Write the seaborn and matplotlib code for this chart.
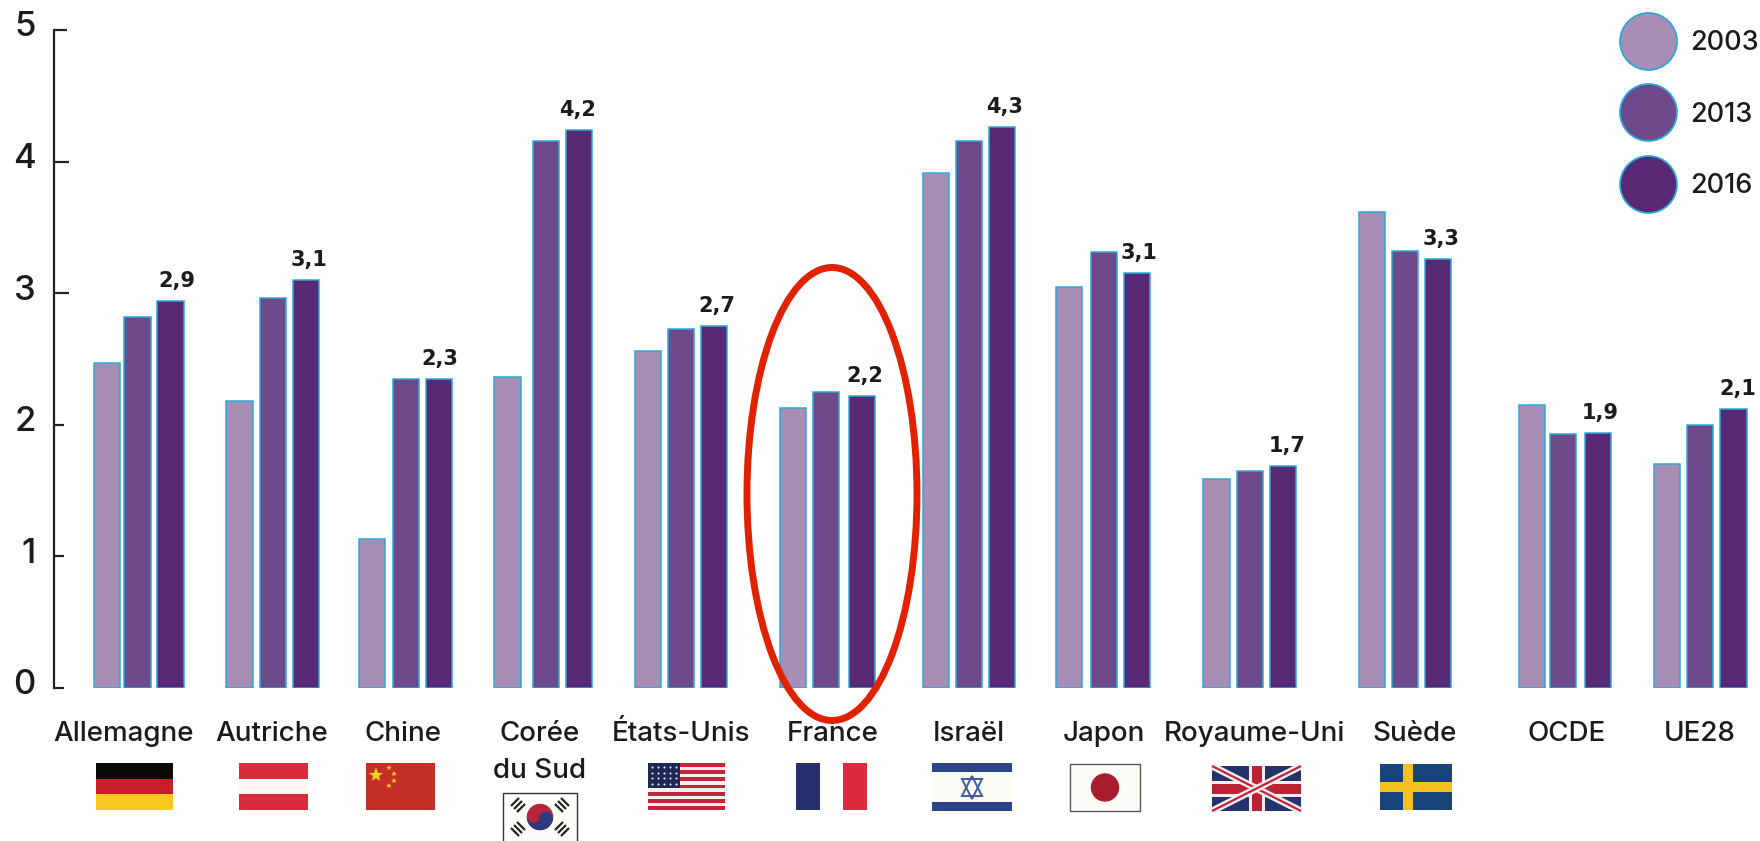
import matplotlib
matplotlib.use("Agg")
import matplotlib.pyplot as plt
import matplotlib.transforms as mtrans
from matplotlib.lines import Line2D
from matplotlib.patches import Ellipse, Rectangle, Wedge
import pandas as pd
import seaborn as sns

countries = ["Allemagne", "Autriche", "Chine", "Corée\ndu Sud", "États-Unis", "France",
             "Israël", "Japon", "Royaume-Uni", "Suède", "OCDE", "UE28"]
years = ["2003", "2013", "2016"]
values_2003 = [2.47, 2.18, 1.13, 2.36, 2.56, 2.13, 3.91, 3.05, 1.59, 3.62, 2.15, 1.70]
values_2013 = [2.82, 2.96, 2.35, 4.16, 2.73, 2.25, 4.16, 3.31, 1.65, 3.32, 1.93, 2.00]
values_2016 = [2.94, 3.10, 2.35, 4.24, 2.75, 2.22, 4.26, 3.15, 1.69, 3.26, 1.94, 2.12]
value_labels = ["2,9", "3,1", "2,3", "4,2", "2,7", "2,2", "4,3", "3,1", "1,7", "3,3", "1,9", "2,1"]

# layout: the bars are not evenly spaced in the original, so x is in image pixels
x_2003 = [106.8, 239.5, 372.3, 507.5, 648, 793.3, 936, 1068.7, 1216.5, 1371.8, 1532.2, 1667.3]
x_2013 = [137.5, 272.7, 405.7, 545.7, 681, 826.3, 969.2, 1104.2, 1249.7, 1404.8, 1562.8, 1700.3]
x_2016 = [170.5, 305.7, 438.7, 578.8, 714, 861.7, 1002, 1137.3, 1282.8, 1437.8, 1598.3, 1733.5]
label_x = [124, 272, 403, 540, 681, 833, 968.5, 1104, 1254, 1415, 1567, 1700]
value_label_shift = [6, 3, 1.5, -1, 3, 3, 3, 2, 4, 3, 2, 4]

W, H = 1760, 841
TEXT = "#1c1a1c"
EDGE = "#2aa9d6"
palette = ["#a88db5", "#6f4a8a", "#582875"]

df = pd.DataFrame({
    "x": x_2003 + x_2013 + x_2016,
    "value": values_2003 + values_2013 + values_2016,
    "year": [y for y in years for _ in countries],
})

sns.set_theme(style="white")
plt.rcParams["font.family"] = ["Inter", "DejaVu Sans"]
plt.rcParams["font.weight"] = "medium"

fig = plt.figure(figsize=(W / 100, H / 100), dpi=100)
ax = fig.add_axes([0, (H - 688) / H, 1, 658 / H])

sns.barplot(data=df, x="x", y="value", hue="year", hue_order=years, palette=palette,
            native_scale=True, dodge=False, width=0.85, saturation=1, errorbar=None,
            edgecolor=EDGE, linewidth=1.1, legend=False, ax=ax)

ax.set_xlim(0, W)
ax.set_ylim(0, 5)
ax.set_xlabel("")
ax.set_ylabel("")
ax.patch.set_alpha(0)

for side in ["top", "right", "bottom"]:
    ax.spines[side].set_visible(False)
ax.spines["left"].set_position(("data", 54))
ax.spines["left"].set_linewidth(1.6)
ax.spines["left"].set_color("#222222")

ax.set_yticks(range(6))
ax.tick_params(axis="y", left=True, direction="in", length=7, width=1.6, color="#222222",
               labelsize=25, labelcolor=TEXT, pad=13)
for tick, length in zip(ax.yaxis.get_major_ticks(), [7, 7, 7, 11, 11, 9]):
    tick.tick1line.set_markersize(length)
up = mtrans.ScaledTranslation(0, 6 / 100, fig.dpi_scale_trans)
for lab in ax.get_yticklabels():
    lab.set_transform(lab.get_transform() + up)

ax.set_xticks(label_x)
ax.set_xticklabels(countries, linespacing=1.55)
ax.tick_params(axis="x", length=0, labelsize=20, labelcolor=TEXT, pad=24)

for x, v, lab, dx in zip(x_2016, values_2016, value_labels, value_label_shift):
    ax.annotate(lab, (x, v), xytext=(dx, 20), textcoords="offset pixels", ha="center", va="center",
                fontsize=15, fontweight="bold", family="DejaVu Sans", color=TEXT)

handles = [Line2D([], [], ls="", marker="o", markersize=41, markerfacecolor=c,
                  markeredgecolor=EDGE, markeredgewidth=1.3) for c in palette]
ax.legend(handles, years, loc="upper left", bbox_to_anchor=(1626 / W, 1.0), frameon=False,
          fontsize=19.5, labelcolor=TEXT, labelspacing=1.68, handlelength=1.6, handletextpad=0.75,
          borderpad=0, borderaxespad=0)

# flags and the red circle, in image pixels
over = fig.add_axes([0, 0, 1, 1])
over.set_xlim(0, W)
over.set_ylim(H, 0)
over.axis("off")


def box(x0, y0, x1, y1, color, **kw):
    over.add_patch(Rectangle((x0, y0), x1 - x0, y1 - y0, facecolor=color, edgecolor="none", **kw))


def stripes(x0, x1, y0, y1, colors):
    step = (y1 - y0) / len(colors)
    for i, c in enumerate(colors):
        box(x0, y0 + i * step, x1, y0 + (i + 1) * step, c)


def flag_usa(x0, x1, y0, y1):
    stripes(x0, x1, y0, y1, ["#c4243a" if i % 2 == 0 else "#f8eeee" for i in range(13)])
    box(x0, y0, x0 + 32, y0 + 25, "#1e2a55")
    for row in range(4):
        for col in range(5):
            over.plot(x0 + 4 + col * 6, y0 + 4 + row * 5.5, "o", ms=1.5, color="#e8e8f0", mew=0)


def flag_china(x0, x1, y0, y1):
    box(x0, y0, x1, y1, "#c62f27")
    over.plot(x0 + 10, y0 + 12, "*", ms=11, color="#f6d21c", mew=0)
    for dx, dy in [(23, 5), (28, 11), (28, 18), (23, 23)]:
        over.plot(x0 + dx, y0 + dy, "*", ms=4, color="#f6d21c", mew=0)


def flag_israel(x0, x1, y0, y1):
    box(x0, y0, x1, y1, "#fdfdf8")
    box(x0, y0, x1, y0 + 9, "#2a4487")
    box(x0, y1 - 9, x1, y1, "#2a4487")
    cx, cy = (x0 + x1) / 2, (y0 + y1) / 2
    for m, dy in [("^", -1.5), ("v", 1.5)]:
        over.plot(cx, cy + dy, m, ms=14, mfc="none", mec="#3f5aa0", mew=1.4)


def flag_japan(x0, x1, y0, y1):
    over.add_patch(Rectangle((x0, y0), x1 - x0, y1 - y0, facecolor="#fdfdf8", edgecolor="#555555", lw=1))
    over.add_patch(Ellipse(((x0 + x1) / 2, (y0 + y1) / 2), 27, 27, color="#a81e2f"))


def flag_uk(x0, x1, y0, y1):
    box(x0, y0, x1, y1, "#24346b")
    for a, b in [((x0, y0), (x1, y1)), ((x0, y1), (x1, y0))]:
        over.plot([a[0], b[0]], [a[1], b[1]], color="#f2eeee", lw=5, solid_capstyle="butt")
        over.plot([a[0], b[0]], [a[1], b[1]], color="#c4243a", lw=1.6, solid_capstyle="butt")
    cx, cy = (x0 + x1) / 2, (y0 + y1) / 2
    box(x0, cy - 8, x1, cy + 8, "#f2eeee")
    box(cx - 8, y0, cx + 8, y1, "#f2eeee")
    box(x0, cy - 5, x1, cy + 5, "#bb2233")
    box(cx - 5, y0, cx + 5, y1, "#bb2233")


def flag_sweden(x0, x1, y0, y1):
    box(x0, y0, x1, y1, "#17457a")
    box(x0, (y0 + y1) / 2 - 5, x1, (y0 + y1) / 2 + 5, "#f6c01e")
    box(x0 + 23, y0, x0 + 33, y1, "#f6c01e")


def flag_korea(x0, x1, y0, y1):
    over.add_patch(Rectangle((x0, y0), x1 - x0, y1 - y0, facecolor="#fdfdf8", edgecolor="#333333", lw=1))
    cx, cy = (x0 + x1) / 2, 817
    over.add_patch(Ellipse((cx, cy), 25, 25, color="#b8233a"))
    over.add_patch(Wedge((cx, cy), 12.5, 15, 195, color="#2c3a80"))
    over.add_patch(Ellipse((cx - 6, cy - 1.5), 12.5, 12.5, color="#b8233a"))
    over.add_patch(Ellipse((cx + 6, cy + 1.5), 12.5, 12.5, color="#2c3a80"))
    for dx, dy, sign in [(-22, -12, 1), (22, -12, -1), (-22, 12, -1), (22, 12, 1)]:
        for k in (-3, 0, 3):
            px, py = cx + dx + k * sign, cy + dy + k
            over.plot([px - 4 * sign, px + 4 * sign], [py + 4, py - 4], color="#222222", lw=1.6,
                      solid_capstyle="butt")


stripes(96, 173, 763, 810, ["#0b0b06", "#c81e2b", "#f7c81f"])
stripes(239, 308, 763, 810, ["#da2a3e", "#fdf6f3", "#da2a3e"])
flag_china(366, 435, 763, 810)
flag_korea(503, 577, 793, 850)
flag_usa(647.5, 725, 763, 810)
box(796, 763, 820, 810, "#26306f")
box(820, 763, 843, 810, "#fdfdfb")
box(843, 763, 867, 810, "#dc2b3f")
flag_israel(932, 1012, 763, 811)
flag_japan(1070, 1140, 764, 811)
flag_uk(1212, 1301, 766, 811)
flag_sweden(1380, 1452, 764, 810)

over.add_patch(Ellipse((832, 494), 170, 453, facecolor="none", edgecolor="#e02200", lw=5))

fig.savefig("out.png", dpi=100)
